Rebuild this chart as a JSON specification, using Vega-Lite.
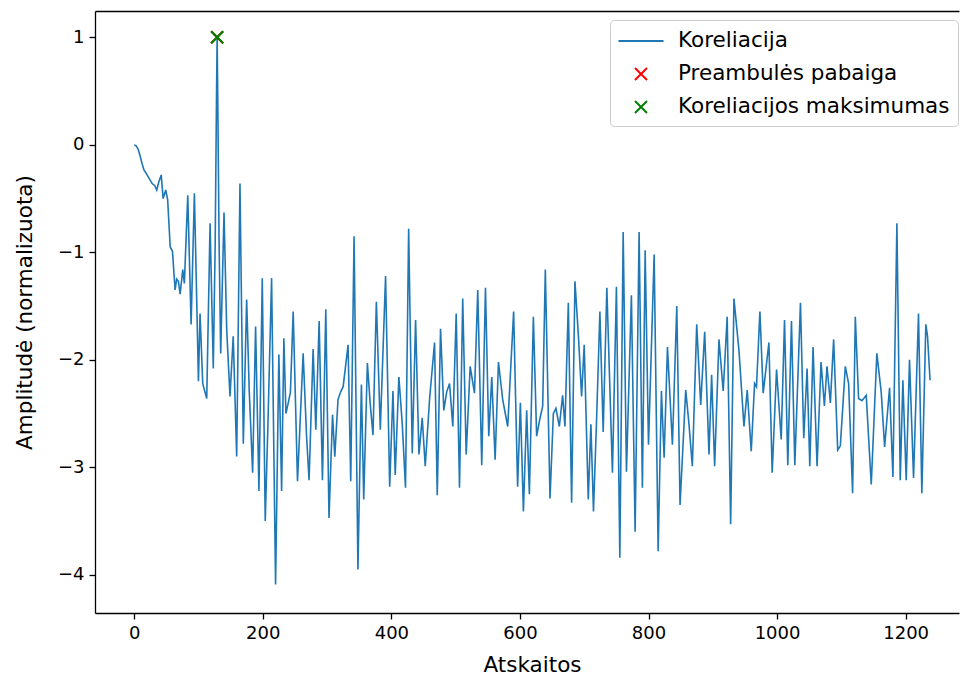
{
  "$schema": "https://vega.github.io/schema/vega-lite/v6.json",
  "width": 864,
  "height": 602,
  "autosize": {"type": "none"},
  "padding": {"left": 95, "top": 11, "right": 1, "bottom": 65},
  "background": "white",
  "config": {
    "font": "DejaVu Sans",
    "view": {"stroke": null},
    "axis": {
      "labelFont": "DejaVu Sans", "labelFontSize": 18, "labelColor": "#000",
      "titleFont": "DejaVu Sans", "titleFontSize": 21.5, "titleFontWeight": "normal", "titleColor": "#000",
      "domainColor": "#000", "domainWidth": 1.3, "tickColor": "#000", "tickWidth": 1.3, "tickSize": 6,
      "grid": false, "labelPadding": 5
    },
    "legend": {
      "labelFont": "DejaVu Sans", "labelFontSize": 21.5, "labelColor": "#000", "labelLimit": 500,
      "padding": 8, "symbolOffset": 10, "labelOffset": 24, "rowPadding": 9,
      "symbolSize": 576, "symbolStrokeWidth": 2,
      "fillColor": "rgba(255,255,255,0.8)", "strokeColor": "#cccccc", "cornerRadius": 4
    }
  },
  "datasets": {
    "corr": [
      {"x":0,"y":0},{"x":3,"y":-0.01},{"x":6,"y":-0.04},{"x":9,"y":-0.1},{"x":12,"y":-0.17},{"x":15,"y":-0.23},{"x":20,"y":-0.28},{"x":25,"y":-0.33},{"x":28,"y":-0.36},{"x":32,"y":-0.38},{"x":35,"y":-0.42},{"x":38,"y":-0.35},{"x":42,"y":-0.28},{"x":45,"y":-0.5},{"x":49,"y":-0.42},{"x":52,"y":-0.51},{"x":56,"y":-0.95},{"x":59.5,"y":-0.99},{"x":63.6,"y":-1.35},{"x":66,"y":-1.25},{"x":68.8,"y":-1.27},{"x":71.4,"y":-1.39},{"x":75.5,"y":-1.16},{"x":78,"y":-1.29},{"x":83.3,"y":-0.47},{"x":88.5,"y":-1.67},{"x":93.6,"y":-0.45},{"x":97.3,"y":-1.47},{"x":99.9,"y":-2.2},{"x":102.4,"y":-1.57},{"x":106.6,"y":-2.22},{"x":110,"y":-2.3},{"x":112.8,"y":-2.36},{"x":118,"y":-0.73},{"x":123,"y":-2.08},{"x":126,"y":-0.9},{"x":128,"y":0.45},{"x":129,"y":1.0},{"x":130,"y":0.4},{"x":132,"y":-0.9},{"x":134.5,"y":-1.94},{"x":139.7,"y":-0.63},{"x":143.9,"y":-1.72},{"x":149,"y":-2.34},{"x":154,"y":-1.78},{"x":159.4,"y":-2.9},{"x":164.5,"y":-0.36},{"x":169.7,"y":-2.78},{"x":174.9,"y":-1.44},{"x":179,"y":-2.3},{"x":184.2,"y":-3.05},{"x":188.8,"y":-1.69},{"x":194,"y":-3.22},{"x":199.2,"y":-1.24},{"x":203.8,"y":-3.5},{"x":208,"y":-2.6},{"x":213.7,"y":-1.24},{"x":219.9,"y":-4.09},{"x":225,"y":-1.95},{"x":229.3,"y":-3.22},{"x":232.8,"y":-1.8},{"x":236,"y":-2.5},{"x":239.6,"y":-2.4},{"x":243,"y":-2.3},{"x":247.3,"y":-1.55},{"x":254,"y":-3.13},{"x":262.8,"y":-1.94},{"x":268,"y":-2.7},{"x":272,"y":-3.12},{"x":278.3,"y":-1.9},{"x":282.5,"y":-2.65},{"x":287.7,"y":-1.64},{"x":292.8,"y":-3.12},{"x":298,"y":-1.53},{"x":303,"y":-3.47},
      {"x":308.5,"y":-2.51},{"x":312,"y":-2.9},{"x":317,"y":-2.37},{"x":321,"y":-2.3},{"x":325,"y":-2.25},{"x":332.7,"y":-1.86},{"x":336.8,"y":-3.13},{"x":342,"y":-0.85},{"x":348,"y":-3.95},{"x":353.4,"y":-2.23},{"x":357,"y":-3.3},{"x":362.7,"y":-2.03},{"x":367,"y":-2.4},{"x":371.4,"y":-2.7},{"x":376.7,"y":-1.46},{"x":382.8,"y":-2.65},{"x":391,"y":-1.22},{"x":397.4,"y":-3.18},{"x":402.5,"y":-2.29},{"x":406,"y":-3.07},{"x":411.7,"y":-2.16},{"x":417,"y":-2.6},{"x":422,"y":-3.19},{"x":426.9,"y":-0.78},{"x":432.5,"y":-2.87},{"x":437.7,"y":-1.63},{"x":442.9,"y":-2.88},{"x":448,"y":-2.54},{"x":452.7,"y":-2.99},{"x":459.5,"y":-2.36},{"x":467.2,"y":-1.84},{"x":471.4,"y":-3.26},{"x":476.5,"y":-1.71},{"x":481.6,"y":-2.47},{"x":486,"y":-2.3},{"x":490.5,"y":-2.22},{"x":495.6,"y":-2.62},{"x":500.9,"y":-1.57},{"x":506,"y":-3.19},{"x":511,"y":-1.43},{"x":516.4,"y":-2.88},{"x":522.6,"y":-2.06},{"x":529.3,"y":-2.31},{"x":534.4,"y":-1.35},{"x":540.6,"y":-2.98},{"x":546.4,"y":-1.33},{"x":551.5,"y":-2.71},{"x":556.2,"y":-2.16},{"x":561.4,"y":-2.93},{"x":566.6,"y":-2.02},{"x":573.2,"y":-2.37},{"x":581,"y":-2.62},{"x":590.2,"y":-1.55},{"x":596.4,"y":-3.18},{"x":600.7,"y":-2.4},{"x":605.4,"y":-3.41},{"x":610.5,"y":-2.47},{"x":614.7,"y":-3.25},
      {"x":620.9,"y":-1.6},{"x":626,"y":-2.71},{"x":631,"y":-2.55},{"x":635.4,"y":-2.43},{"x":639.5,"y":-1.16},{"x":646.8,"y":-3.29},{"x":652,"y":-2.5},{"x":656,"y":-2.45},{"x":661.3,"y":-2.62},{"x":666.4,"y":-2.33},{"x":670,"y":-2.62},{"x":675.3,"y":-1.47},{"x":680.4,"y":-3.33},{"x":685.6,"y":-1.27},{"x":691.3,"y":-1.81},{"x":695.9,"y":-2.34},{"x":700,"y":-1.86},{"x":706.3,"y":-3.3},{"x":710.4,"y":-2.6},{"x":714.4,"y":-3.41},{"x":719,"y":-2.6},{"x":724.4,"y":-1.55},{"x":729.5,"y":-2.67},{"x":735.2,"y":-1.33},{"x":743.9,"y":-3.05},{"x":750.1,"y":-1.32},{"x":755.4,"y":-3.84},{"x":760.6,"y":-0.81},{"x":765.7,"y":-3.04},{"x":773.4,"y":-1.4},{"x":779.2,"y":-3.6},{"x":785.4,"y":-0.81},{"x":790.5,"y":-3.19},{"x":794.8,"y":-0.98},{"x":800,"y":-2.79},{"x":808.8,"y":-1.02},{"x":815,"y":-3.78},{"x":820.1,"y":-2.29},{"x":824.3,"y":-2.91},{"x":829.5,"y":-1.88},{"x":837.2,"y":-2.79},{"x":844,"y":-1.5},{"x":849.1,"y":-3.35},{"x":857.9,"y":-2.28},{"x":863,"y":-2.6},{"x":868.2,"y":-2.99},{"x":875,"y":-1.67},{"x":881.2,"y":-2.42},{"x":887.4,"y":-1.74},{"x":894.1,"y":-2.88},{"x":898.2,"y":-2.14},{"x":902.9,"y":-2.99},{"x":909.6,"y":-1.81},{"x":916.2,"y":-2.29},{"x":922.4,"y":-1.6},{"x":927.8,"y":-3.53},
      {"x":932.9,"y":-1.43},{"x":940.7,"y":-1.91},{"x":948.5,"y":-2.62},{"x":953.6,"y":-2.28},{"x":959.8,"y":-2.85},{"x":965,"y":-2.22},{"x":968,"y":-2.25},{"x":973.3,"y":-1.55},{"x":978.4,"y":-2.31},{"x":987.3,"y":-1.84},{"x":992.4,"y":-3.05},{"x":999.2,"y":-2.09},{"x":1006.4,"y":-2.74},{"x":1011.6,"y":-1.63},{"x":1016.7,"y":-2.98},{"x":1022.4,"y":-1.64},{"x":1027.6,"y":-2.98},{"x":1036.4,"y":-1.47},{"x":1041.5,"y":-2.73},{"x":1046.7,"y":-2.08},{"x":1050.9,"y":-2.99},{"x":1056,"y":-1.88},{"x":1062.2,"y":-2.99},{"x":1068.4,"y":-2.02},{"x":1073.6,"y":-2.43},{"x":1077.7,"y":-2.06},{"x":1082.9,"y":-2.4},{"x":1088,"y":-1.81},{"x":1094.3,"y":-2.84},{"x":1098.4,"y":-2.8},{"x":1106.2,"y":-2.06},{"x":1111.3,"y":-2.22},{"x":1117.5,"y":-3.24},{"x":1121.7,"y":-1.6},{"x":1126.8,"y":-2.36},{"x":1132,"y":-2.38},{"x":1138.7,"y":-2.33},{"x":1146.5,"y":-3.16},{"x":1155.2,"y":-1.94},{"x":1162,"y":-2.3},{"x":1167.3,"y":-2.81},{"x":1175,"y":-2.26},{"x":1180.2,"y":-3.09},{"x":1186.4,"y":-0.73},{"x":1191.6,"y":-3.12},{"x":1195.7,"y":-2.19},{"x":1200.9,"y":-3.12},{"x":1206,"y":-2.0},{"x":1212.3,"y":-3.1},{"x":1220,"y":-1.57},{"x":1225.2,"y":-3.24},{"x":1231.4,"y":-1.67},{"x":1234,"y":-1.78},{"x":1238,"y":-2.19}
    ],
    "marks": [
      {"x": 129, "y": 1.0, "series": "Preambulės pabaiga"},
      {"x": 129, "y": 1.0, "series": "Koreliacijos maksimumas"}
    ]
  },
  "layer": [
    {
      "data": {"name": "corr"},
      "mark": {"type": "line", "strokeWidth": 1.6, "interpolate": "linear"},
      "encoding": {
        "x": {
          "field": "x", "type": "quantitative",
          "scale": {"domain": [-61, 1283], "nice": false, "zero": false},
          "axis": {"values": [0, 200, 400, 600, 800, 1000, 1200], "format": "d", "title": "Atskaitos", "titleX": 437, "titlePadding": 12, "labelFlush": false}
        },
        "y": {
          "field": "y", "type": "quantitative",
          "scale": {"domain": [-4.355, 1.245], "nice": false, "zero": false},
          "axis": {"values": [-4, -3, -2, -1, 0, 1], "format": "d", "title": "Amplitudė (normalizuota)", "titlePadding": 21, "labelFlush": false}
        },
        "color": {
          "datum": "Koreliacija", "type": "nominal",
          "scale": {"domain": ["Koreliacija", "Preambulės pabaiga", "Koreliacijos maksimumas"], "range": ["#1f77b4", "#ff0000", "#008000"]},
          "legend": {"orient": "none", "legendX": 515, "legendY": 9, "title": null}
        }
      }
    },
    {
      "data": {"name": "marks"},
      "mark": {"type": "point", "filled": false, "size": 576, "strokeWidth": 2.2, "opacity": 1},
      "encoding": {
        "x": {
          "field": "x", "type": "quantitative",
          "axis": {"orient": "top", "labels": false, "ticks": false, "title": null, "domain": true, "grid": false}
        },
        "y": {
          "field": "y", "type": "quantitative",
          "axis": {"values": [-4, -3, -2, -1, 0, 1], "format": "d", "title": "Amplitudė (normalizuota)", "titlePadding": 21, "labelFlush": false}
        },
        "color": {"field": "series", "type": "nominal"},
        "shape": {
          "field": "series", "type": "nominal",
          "scale": {"domain": ["Koreliacija", "Preambulės pabaiga", "Koreliacijos maksimumas"], "range": ["M-1.875,0L1.875,0", "M-0.5,-0.5L0.5,0.5M0.5,-0.5L-0.5,0.5", "M-0.5,-0.5L0.5,0.5M0.5,-0.5L-0.5,0.5"]},
          "legend": {"orient": "none", "legendX": 515, "legendY": 9, "title": null}
        }
      }
    }
  ],
  "resolve": {"axis": {"x": "independent"}}
}
